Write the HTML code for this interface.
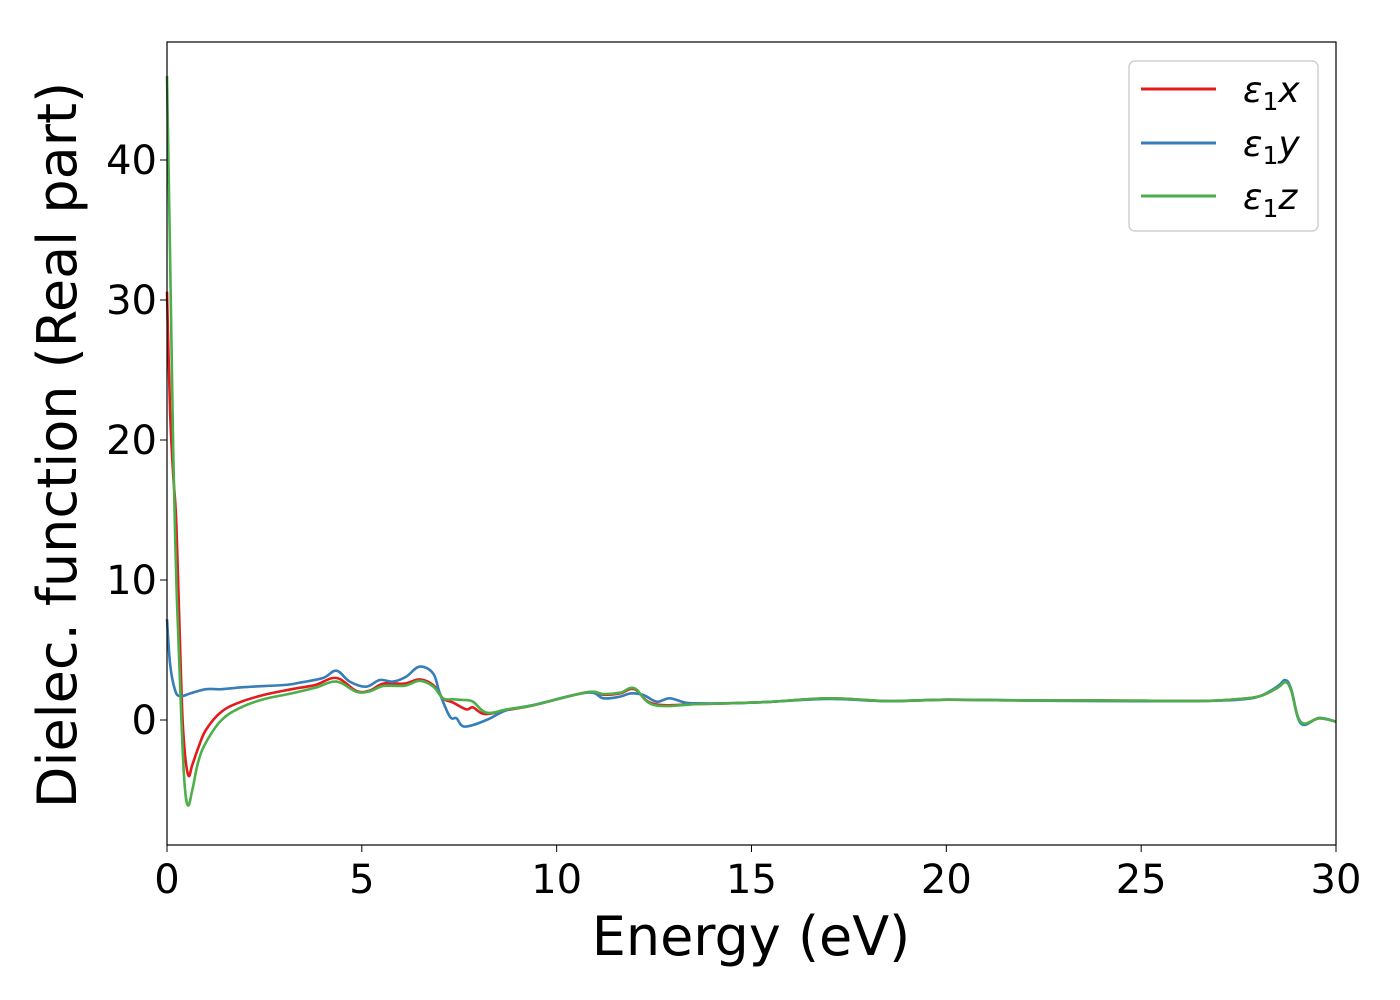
<!DOCTYPE html>
<html><head><meta charset="utf-8"><style>
html,body{margin:0;padding:0;background:#fff;}
svg{display:block;font-family:"DejaVu Sans","Liberation Sans",sans-serif;}
</style></head><body>
<svg id="chart" width="1400" height="1000" viewBox="0 0 1400 1000">
<rect x="0" y="0" width="1400" height="1000" fill="#fff"/>
<g id="series"></g>
<g id="axes"></g>
<text x="751" y="955" font-size="54" text-anchor="middle">Energy (eV)</text>
<text transform="translate(76,445) rotate(-90)" font-size="54" text-anchor="middle">Dielec. function (Real part)</text>
<g>
<rect x="1129" y="61" width="189" height="170" rx="6" fill="#fff" stroke="#d0d0d0" stroke-width="1.5"/>
<line x1="1141" y1="89" x2="1216" y2="89" stroke="#e41a1c" stroke-width="3"/>
<line x1="1141" y1="143" x2="1216" y2="143" stroke="#377eb8" stroke-width="3"/>
<line x1="1141" y1="196" x2="1216" y2="196" stroke="#4daf4a" stroke-width="3"/>
<text x="1243" y="102" font-size="36" font-style="italic">ε<tspan font-style="normal" font-size="25" dy="8">1</tspan><tspan dy="-8">x</tspan></text>
<text x="1243" y="156" font-size="36" font-style="italic">ε<tspan font-style="normal" font-size="25" dy="8">1</tspan><tspan dy="-8">y</tspan></text>
<text x="1243" y="209" font-size="36" font-style="italic">ε<tspan font-style="normal" font-size="25" dy="8">1</tspan><tspan dy="-8">z</tspan></text>
</g>
</svg>
<script>
const xTicks=[0,5,10,15,20,25,30];
const yTicks=[0,10,20,30,40];
const redE=[0,0.08,0.16,0.24,0.35,0.42,0.54,0.65,0.8,1.0,1.4,1.9,2.5,3.2,3.8,4.35,4.86,5.2,5.55,6.1,6.48,6.83,7.08,7.34,7.68,7.85,8.15,8.72,9.4,10.77,11.2,11.63,12.0,12.5,13.66,14.5,15.5,17,18.5,20,22,24,26.5,27.5,28.05,28.5,28.7,28.85,29.1,29.57,30];
const redV=[30.6,22,17.5,13.9,4,-1,-3.9,-3.2,-2,-0.7,0.6,1.3,1.8,2.2,2.5,3.0,2.07,2.1,2.6,2.6,2.9,2.5,1.55,1.24,0.76,0.9,0.43,0.71,1.05,1.98,1.8,1.9,2.19,1.14,1.14,1.2,1.3,1.55,1.35,1.45,1.4,1.4,1.36,1.5,1.71,2.3,2.74,2.14,-0.19,0.12,-0.12];
const blueE=[0,0.08,0.2,0.33,0.6,1.0,1.4,2.0,3.0,3.41,4.0,4.35,4.69,5.11,5.46,5.8,6.14,6.48,6.83,7.0,7.26,7.43,7.64,8.2,8.72,9.4,10.77,11.2,11.63,11.9,12.22,12.57,12.9,13.3,13.66,14.5,15.5,17,18.5,20,22,24,26.5,27.5,28.05,28.5,28.7,28.85,29.1,29.57,30];
const blueV=[7.2,4,2.2,1.7,1.9,2.2,2.2,2.35,2.5,2.67,3.0,3.52,2.74,2.38,2.86,2.74,3.1,3.81,3.33,1.9,0.24,0.12,-0.47,0,0.71,1.07,1.95,1.55,1.67,1.9,1.79,1.31,1.55,1.24,1.19,1.2,1.3,1.5,1.35,1.45,1.4,1.35,1.36,1.45,1.71,2.4,2.85,2.2,-0.25,0.15,-0.12];
const greenE=[0,0.08,0.16,0.25,0.37,0.45,0.54,0.65,0.8,1.0,1.4,1.9,2.5,3.2,3.8,4.35,4.86,5.2,5.55,6.1,6.48,6.83,7.08,7.34,7.6,7.85,8.2,8.72,9.4,10.77,11.2,11.63,12.0,12.5,13.66,14.5,15.5,17,18.5,20,22,24,26.5,27.5,28.05,28.5,28.7,28.85,29.1,29.57,30];
const greenV=[46,33,19.3,9,0,-4.5,-6.1,-5,-3,-1.6,0,0.9,1.5,1.9,2.3,2.74,2.02,2.05,2.43,2.45,2.8,2.4,1.55,1.48,1.43,1.31,0.52,0.76,1.05,1.98,1.85,1.95,2.26,1.07,1.14,1.2,1.3,1.55,1.35,1.45,1.4,1.4,1.36,1.5,1.71,2.3,2.7,2.1,-0.15,0.12,-0.12];
const X0=167,X1=1336,Y0=845,Y1=42;
const xMin=0,xMax=30,yZeroPx=720,yPerUnit=14;
function sx(e){return X0+(e-xMin)/(xMax-xMin)*(X1-X0);}
function sy(v){return yZeroPx-v*yPerUnit;}
const NS="http://www.w3.org/2000/svg";
function pathFor(E,V){
  const p=E.map((e,i)=>[sx(e),sy(V[i])]);
  let d="M"+p[0][0].toFixed(1)+","+p[0][1].toFixed(1);
  for(let i=0;i<p.length-1;i++){
    const p0=p[Math.max(0,i-1)],p1=p[i],p2=p[i+1],p3=p[Math.min(p.length-1,i+2)];
    const t=0.18;
    const c1=[p1[0]+(p2[0]-p0[0])*t,p1[1]+(p2[1]-p0[1])*t];
    const c2=[p2[0]-(p3[0]-p1[0])*t,p2[1]-(p3[1]-p1[1])*t];
    c1[0]=Math.min(Math.max(c1[0],p1[0]),p2[0]);c2[0]=Math.min(Math.max(c2[0],p1[0]),p2[0]);
    d+="C"+c1[0].toFixed(1)+","+c1[1].toFixed(1)+" "+c2[0].toFixed(1)+","+c2[1].toFixed(1)+" "+p2[0].toFixed(1)+","+p2[1].toFixed(1);
  }
  return d;
}
const sg=document.getElementById('series');
[[redE,redV,'#e41a1c','series-eps1-x'],[blueE,blueV,'#377eb8','series-eps1-y'],[greenE,greenV,'#4daf4a','series-eps1-z']].forEach(s=>{
  const el=document.createElementNS(NS,'path');
  el.setAttribute('d',pathFor(s[0],s[1]));
  el.setAttribute('fill','none');el.setAttribute('stroke',s[2]);el.setAttribute('stroke-width','2.6');
  el.setAttribute('stroke-linejoin','round');
  
  
  sg.appendChild(el);
});
const ag=document.getElementById('axes');
const frame=document.createElementNS(NS,'rect');
frame.setAttribute('x',X0);frame.setAttribute('y',Y1);frame.setAttribute('width',X1-X0);frame.setAttribute('height',Y0-Y1);
frame.setAttribute('fill','none');frame.setAttribute('stroke','#000');frame.setAttribute('stroke-width','1.2');


ag.appendChild(frame);
xTicks.forEach(t=>{
  const l=document.createElementNS(NS,'line');
  l.setAttribute('x1',sx(t));l.setAttribute('x2',sx(t));l.setAttribute('y1',Y0);l.setAttribute('y2',Y0+7);l.setAttribute('stroke','#000');
  
  
  ag.appendChild(l);
  const tx=document.createElementNS(NS,'text');
  tx.setAttribute('x',sx(t));tx.setAttribute('y',893);tx.setAttribute('font-size','40');tx.setAttribute('text-anchor','middle');
  tx.textContent=t;
  
  
  ag.appendChild(tx);
});
yTicks.forEach(t=>{
  const l=document.createElementNS(NS,'line');
  l.setAttribute('x1',X0-7);l.setAttribute('x2',X0);l.setAttribute('y1',sy(t));l.setAttribute('y2',sy(t));l.setAttribute('stroke','#000');
  
  
  ag.appendChild(l);
  const tx=document.createElementNS(NS,'text');
  tx.setAttribute('x',157);tx.setAttribute('y',sy(t)+14);tx.setAttribute('font-size','40');tx.setAttribute('text-anchor','end');
  tx.textContent=t;
  
  
  ag.appendChild(tx);
});
</script>
</body></html>
